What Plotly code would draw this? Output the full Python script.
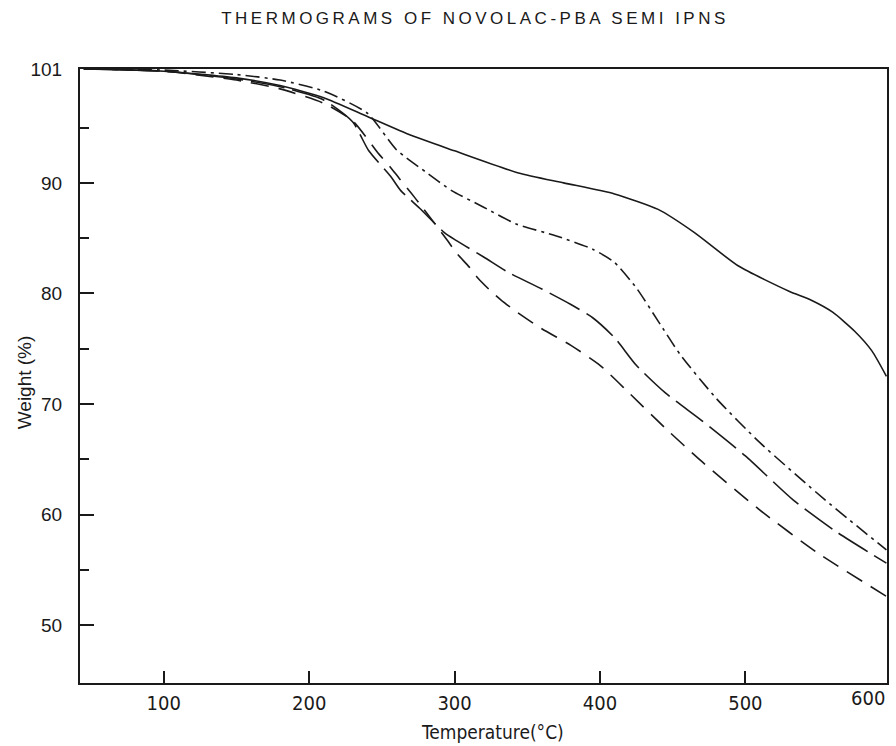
import plotly.graph_objects as go

# ---- data ----
solid_T = [45, 100, 150, 180, 210, 240, 270, 300, 344, 375, 410, 440, 465, 495, 530, 545, 560, 575, 587, 597]
solid_W = [100.3, 100.1, 99.5, 98.8, 97.7, 96.0, 94.3, 92.9, 90.9, 90.0, 89.0, 87.6, 85.5, 82.5, 80.2, 79.4, 78.3, 76.6, 74.8, 72.5]

dashdot_T = [45, 100, 150, 180, 210, 240, 260, 280, 298, 320, 342, 370, 395, 410, 425, 440, 455, 480, 510, 555, 597]
dashdot_W = [100.3, 100.2, 99.8, 99.3, 98.3, 96.3, 93.0, 91.0, 89.3, 87.8, 86.3, 85.2, 84.0, 82.8, 80.5, 77.5, 74.5, 70.5, 66.5, 61.3, 56.8]

longdash_T = [45, 100, 150, 180, 210, 230, 241, 256, 263, 276, 293, 301, 320, 337, 360, 380, 395, 410, 425, 445, 470, 500, 533, 563, 597]
longdash_W = [100.3, 100.1, 99.4, 98.7, 97.5, 95.5, 92.9, 90.6, 89.3, 87.7, 85.5, 84.8, 83.3, 81.9, 80.4, 79.0, 77.8, 76.0, 73.5, 71.0, 68.5, 65.3, 61.3, 58.4, 55.6]

dashed_T = [45, 100, 150, 180, 210, 230, 248, 256, 262, 270, 276, 295, 301, 310, 316, 325, 332, 342, 360, 380, 400, 420, 445, 470, 510, 550, 597]
dashed_W = [100.3, 100.1, 99.3, 98.5, 97.2, 95.6, 92.6, 91.4, 90.4, 89.1, 88.1, 84.8, 83.7, 82.4, 81.4, 80.2, 79.4, 78.4, 76.8, 75.3, 73.5, 71.0, 67.8, 64.8, 60.4, 56.5, 52.6]

x_tick_vals = [100, 200, 300, 400, 500]
x_tick_text = ["100", "200", "300", "400", "500"]
x_last_label = "600"
y_tick_vals = [50, 60, 70, 80, 90, 100.3]
y_tick_text = ["50", "60", "70", "80", "90", "101"]
y_minor_vals = [55, 65, 75, 85, 95]

title_text = "THERMOGRAMS OF NOVOLAC-PBA SEMI IPNS"
x_title = "Temperature(°C)"
y_title = "Weight (%)"

FONT = "Liberation Sans, Arial, sans-serif"
NARROW = "DejaVu Sans Condensed, Liberation Sans, sans-serif"
INK = "#1a1a1a"

fig = go.Figure()
series = [
    (solid_T, solid_W, "solid"),
    (dashdot_T, dashdot_W, "14px,5px,3px,5px"),
    (longdash_T, longdash_W, "34px,8px"),
    (dashed_T, dashed_W, "18px,10px"),
]
for T, W, dash in series:
    fig.add_trace(go.Scatter(
        x=T, y=W, mode="lines",
        line=dict(color=INK, width=1.6, dash=dash, shape="spline", smoothing=0.6),
        showlegend=False, hoverinfo="skip",
    ))

fig.update_layout(
    width=896, height=746,
    margin=dict(l=80, r=7, t=69, b=63),
    paper_bgcolor="white", plot_bgcolor="white",
    font=dict(family=FONT, color=INK, size=19),
    title=dict(text='<span style="letter-spacing:3.5px">' + title_text + '</span>',
               x=(476 - 80) / 809, xanchor="center", xref="paper",
               y=1 - 18 / 746, yref="container", yanchor="middle",
               font=dict(family=FONT, size=17, color=INK)),
    xaxis=dict(
        range=[42.4, 597.4], tickvals=x_tick_vals, ticktext=x_tick_text,
        ticks="inside", ticklen=12, tickwidth=1.5, tickcolor=INK,
        showline=True, linewidth=2, linecolor=INK, mirror=True,
        showgrid=False, zeroline=False, ticklabelstandoff=1,
        tickfont=dict(size=20, family=NARROW),
    ),
    yaxis=dict(
        range=[44.76, 100.3], tickvals=y_tick_vals, ticktext=y_tick_text,
        ticks="inside", ticklen=14, tickwidth=1.5, tickcolor=INK,
        minor=dict(tickvals=y_minor_vals, ticks="inside", ticklen=9, tickwidth=1.5, tickcolor=INK),
        showline=True, linewidth=2, linecolor=INK, mirror=True,
        showgrid=False, zeroline=False, ticklabelstandoff=12,
        tickfont=dict(size=19),
    ),
    annotations=[
        dict(text=x_last_label, xref="paper", yref="paper", x=1.0, y=0,
             xanchor="right", yanchor="top", yshift=-1, showarrow=False,
             font=dict(size=20, color=INK, family=NARROW)),
        dict(text=x_title, xref="paper", yref="paper", x=(494 - 80) / 809, y=0,
             xanchor="center", yanchor="middle", yshift=-(732 - 683), showarrow=False,
             font=dict(size=19, color=INK, family=NARROW)),
        dict(text=y_title, xref="paper", yref="paper", x=(24 - 80) / 809, y=0.49,
             xanchor="center", yanchor="middle", textangle=-90, showarrow=False,
             font=dict(size=19, color=INK, family=FONT)),
    ],
)

fig.write_html("out.html")
